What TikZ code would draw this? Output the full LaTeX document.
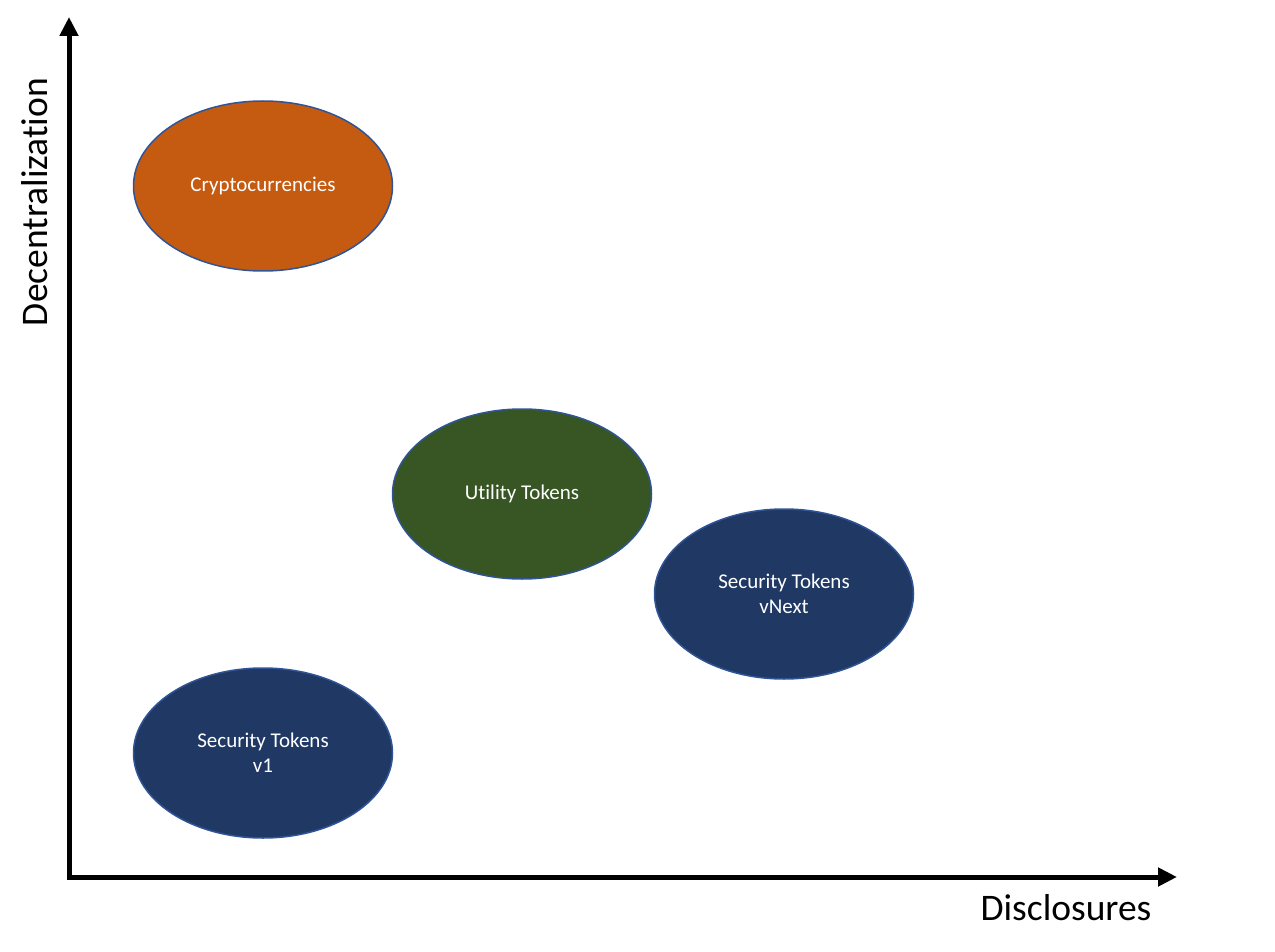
\documentclass[tikz,border=0pt]{standalone}
\usepackage{fontspec}
\setmainfont[Ligatures=NoCommon]{Carlito}
\usetikzlibrary{arrows.meta,shapes.geometric}
\definecolor{crypto}{HTML}{C55A11}
\definecolor{utility}{HTML}{375623}
\definecolor{navy}{HTML}{203864}
\definecolor{rim}{HTML}{2F5597}
\begin{document}
\begin{tikzpicture}[x=1pt,y=-1pt,
  blob/.style={ellipse, draw=rim, line width=1.5pt, minimum width=259pt, minimum height=170pt, inner sep=0pt, text=white, font=\fontsize{21}{25}\selectfont, align=center},
  axis/.style={line width=5pt, -{Triangle[width=18pt,length=19pt]}},
  axlabel/.style={font=\fontsize{37.5}{40}\selectfont, inner sep=0pt}]
\useasboundingbox (0,0) rectangle (1275,952);
\coordinate (ytop) at (69,17);
\coordinate (ybot) at (69,879.5);
\coordinate (xend) at (1177,877);
\coordinate (ostart) at (66.5,877);
\draw[axis] (ybot) -- (ytop);
\draw[axis] (ostart) -- (xend);
\node[axlabel, rotate=90] (ylab) at (35,202) {Decentralization};
\node[axlabel] (xlab) at (1066,908) {Disclosures};
\node[blob, fill=crypto] (crypto) at (263,186) {Cryptocurrencies};
\node[blob, fill=utility] (util) at (522,494) {Utility Tokens};
\node[blob, fill=navy] (vnext) at (784,594) {Security Tokens\\vNext};
\node[blob, fill=navy] (v1) at (263,753) {Security Tokens\\v1};
\end{tikzpicture}
\end{document}
